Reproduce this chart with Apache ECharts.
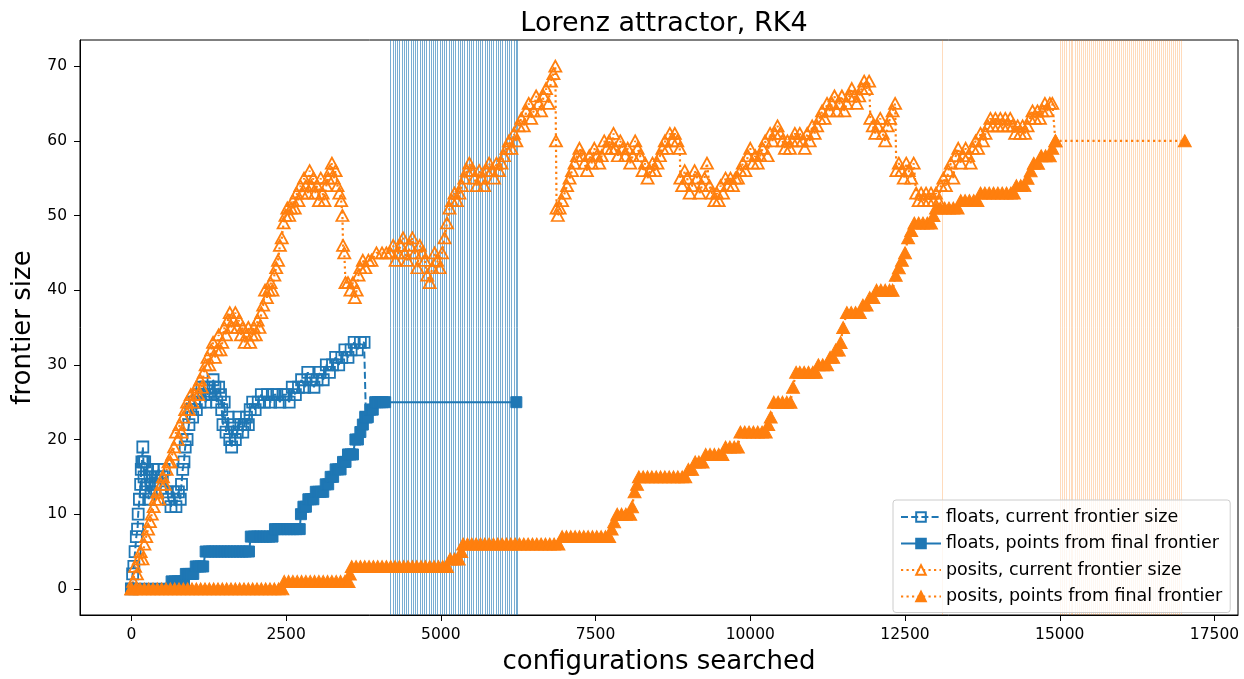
<!DOCTYPE html>
<html>
<head>
<meta charset="utf-8">
<title>Lorenz attractor, RK4</title>
<script src="https://cdn.jsdelivr.net/npm/echarts@6/dist/echarts.min.js"></script>
<style>
  html, body { margin: 0; padding: 0; background: #fff; }
  #chart { width: 1244px; height: 679px; }
</style>
</head>
<body>
<div id="chart"></div>
<script>
// tick labels
var xTicks = [0, 2500, 5000, 7500, 10000, 12500, 15000, 17500];
var yTicks = [0, 10, 20, 30, 40, 50, 60, 70];

// [configurations searched, frontier size]
var floatsCurrent = [[0,0],[20,2],[40,3],[60,5],[80,7],[100,8],[110,10],[130,12],[150,14],[160,16],[170,17],[185,19],[195,17],[205,15],[215,17],[230,13],[245,16],[260,14],[280,12],[300,15],[320,13],[350,16],[380,14],[410,15],[440,16],[470,14],[500,15],[530,16],[560,13],[600,12],[640,11],[680,13],[720,11],[760,13],[790,12],[810,14],[830,16],[850,17],[870,19],[900,20],[930,22],[960,24],[990,23],[1020,25],[1050,24],[1080,26],[1110,25],[1140,27],[1170,26],[1200,25],[1230,26],[1260,27],[1290,26],[1320,28],[1350,27],[1380,25],[1410,27],[1440,26],[1460,24],[1480,22],[1500,25],[1530,21],[1560,23],[1590,20],[1620,19],[1650,22],[1680,20],[1710,21],[1740,23],[1770,22],[1800,21],[1830,22],[1860,23],[1890,22],[1920,24],[1960,25],[2000,24],[2050,25],[2100,26],[2150,25],[2200,26],[2250,25],[2300,26],[2350,26],[2400,25],[2450,26],[2500,26],[2550,25],[2600,27],[2650,26],[2700,27],[2750,28],[2800,27],[2850,29],[2900,28],[2950,27],[3000,28],[3050,29],[3100,28],[3150,30],[3200,29],[3250,30],[3300,31],[3350,30],[3400,31],[3450,32],[3500,31],[3550,32],[3600,33],[3650,32],[3700,33],[3760,33],[3790,23]];

var floatsFinal = [[0,0],[80,0],[160,0],[240,0],[320,0],[400,0],[480,0],[560,0],[620,0],[650,1],[700,1],[750,1],[800,1],[850,1],[880,2],[920,2],[960,2],[1000,2],[1040,3],[1080,3],[1120,3],[1160,3],[1200,5],[1250,5],[1300,5],[1350,5],[1400,5],[1450,5],[1500,5],[1550,5],[1600,5],[1650,5],[1700,5],[1750,5],[1800,5],[1850,5],[1900,5],[1930,7],[1980,7],[2030,7],[2080,7],[2130,7],[2180,7],[2230,7],[2280,7],[2320,8],[2370,8],[2420,8],[2470,8],[2520,8],[2570,8],[2620,8],[2670,8],[2720,8],[2740,10],[2780,11],[2820,11],[2860,12],[2900,12],[2940,12],[2980,13],[3020,13],[3060,13],[3100,13],[3140,14],[3180,14],[3220,15],[3260,15],[3300,16],[3340,16],[3380,16],[3420,17],[3460,17],[3500,18],[3540,18],[3580,18],[3620,20],[3660,20],[3700,21],[3740,22],[3780,23],[3820,23],[3860,24],[3900,24],[3940,25],[3980,25],[4020,25],[4060,25],[4100,25],[6220,25]];

var positsCurrent = [[0,0],[30,1],[60,3],[90,2],[120,4],[150,5],[180,4],[210,6],[240,7],[270,8],[300,9],[330,10],[360,11],[390,12],[420,13],[450,12],[480,14],[510,15],[540,14],[570,16],[600,17],[630,17],[660,18],[690,19],[720,21],[750,20],[780,22],[810,21],[840,23],[870,24],[900,25],[930,24],[960,26],[990,25],[1020,26],[1050,27],[1080,26],[1110,28],[1140,27],[1170,29],[1200,30],[1230,31],[1260,30],[1290,32],[1320,33],[1350,31],[1380,32],[1410,34],[1440,32],[1470,33],[1500,35],[1530,34],[1560,36],[1590,37],[1620,35],[1650,36],[1680,37],[1710,35],[1740,36],[1770,34],[1800,35],[1830,33],[1860,34],[1890,35],[1920,33],[1950,34],[1980,35],[2010,34],[2040,36],[2070,35],[2100,37],[2130,38],[2160,40],[2190,39],[2220,40],[2250,41],[2280,40],[2310,42],[2340,43],[2370,44],[2400,46],[2430,47],[2460,49],[2490,50],[2520,51],[2550,50],[2580,51],[2610,52],[2640,51],[2670,53],[2700,52],[2730,54],[2760,53],[2790,55],[2820,54],[2850,53],[2880,56],[2910,54],[2940,55],[2970,53],[3000,54],[3030,52],[3060,55],[3090,53],[3120,52],[3150,54],[3180,55],[3210,56],[3240,57],[3270,55],[3300,56],[3330,54],[3360,53],[3390,52],[3410,50],[3420,46],[3440,45],[3460,41],[3500,41],[3540,40],[3580,41],[3610,39],[3640,40],[3670,42],[3700,43],[3740,44],[3780,43],[3830,44],[3880,44],[3960,45],[4050,45],[4120,45],[4180,45],[4230,46],[4270,44],[4310,45],[4350,46],[4390,47],[4420,45],[4460,44],[4500,46],[4540,47],[4580,45],[4620,43],[4660,46],[4700,45],[4740,44],[4780,42],[4820,41],[4860,43],[4900,45],[4940,44],[4980,43],[5020,45],[5060,47],[5100,49],[5140,51],[5180,52],[5220,53],[5260,52],[5300,53],[5340,54],[5380,55],[5420,56],[5460,57],[5500,56],[5540,55],[5580,54],[5620,56],[5660,55],[5700,54],[5740,56],[5780,57],[5820,56],[5860,55],[5900,57],[5940,56],[5980,57],[6020,58],[6060,59],[6100,60],[6140,59],[6180,61],[6220,60],[6260,62],[6300,63],[6340,62],[6380,64],[6420,65],[6460,63],[6500,64],[6540,66],[6580,65],[6620,64],[6660,66],[6700,67],[6740,65],[6780,68],[6820,69],[6850,70],[6860,60],[6870,51],[6890,50],[6920,51],[6960,52],[7000,53],[7040,54],[7080,55],[7120,56],[7160,57],[7200,58],[7240,59],[7280,58],[7320,57],[7360,56],[7400,58],[7440,57],[7480,59],[7520,58],[7560,57],[7600,58],[7640,60],[7680,59],[7720,60],[7760,59],[7790,61],[7820,59],[7860,58],[7900,60],[7940,59],[7980,58],[8020,59],[8060,57],[8100,58],[8140,60],[8180,59],[8220,58],[8260,56],[8300,57],[8340,55],[8380,56],[8420,57],[8460,56],[8500,57],[8540,58],[8580,59],[8620,60],[8660,59],[8700,61],[8740,60],[8780,61],[8820,60],[8860,59],[8870,55],[8900,54],[8940,56],[8980,55],[9020,53],[9060,54],[9100,56],[9140,55],[9180,53],[9220,54],[9260,55],[9300,57],[9340,54],[9380,53],[9420,52],[9460,53],[9490,52],[9520,54],[9560,53],[9600,55],[9640,54],[9680,55],[9720,54],[9760,55],[9800,55],[9840,56],[9880,57],[9920,56],[9960,58],[10000,59],[10040,57],[10080,58],[10120,57],[10160,58],[10200,59],[10240,60],[10280,58],[10320,61],[10360,60],[10400,61],[10440,62],[10480,61],[10520,60],[10560,59],[10600,60],[10640,59],[10680,60],[10720,61],[10760,60],[10800,61],[10840,60],[10880,59],[10920,61],[10960,60],[11000,62],[11040,61],[11080,62],[11120,63],[11160,64],[11200,63],[11240,65],[11280,64],[11320,65],[11360,66],[11400,64],[11440,65],[11480,66],[11520,64],[11560,65],[11600,66],[11640,67],[11680,66],[11720,65],[11760,66],[11800,67],[11840,68],[11880,67],[11920,68],[11940,63],[11980,62],[12020,61],[12060,62],[12100,63],[12140,61],[12180,60],[12220,62],[12260,63],[12300,64],[12340,65],[12360,56],[12400,57],[12440,56],[12480,55],[12520,57],[12560,56],[12600,55],[12640,57],[12680,53],[12720,52],[12760,53],[12800,52],[12840,53],[12880,52],[12920,53],[12960,52],[13000,53],[13040,52],[13080,54],[13120,55],[13160,54],[13200,56],[13240,57],[13280,55],[13320,58],[13360,59],[13400,57],[13440,58],[13480,59],[13520,58],[13560,57],[13600,59],[13640,60],[13680,59],[13720,61],[13760,60],[13800,61],[13840,62],[13880,63],[13920,62],[13960,63],[14000,62],[14040,63],[14080,62],[14120,63],[14160,62],[14200,63],[14240,62],[14280,61],[14320,62],[14360,61],[14400,62],[14440,61],[14480,62],[14520,63],[14560,64],[14600,63],[14640,64],[14680,63],[14720,64],[14760,65],[14800,64],[14840,65],[14880,65],[14930,60]];

var positsFinal = [[0,0],[70,0],[140,0],[210,0],[280,0],[350,0],[420,0],[490,0],[560,0],[630,0],[700,0],[770,0],[840,0],[910,0],[980,0],[1050,0],[1120,0],[1190,0],[1260,0],[1330,0],[1400,0],[1470,0],[1540,0],[1610,0],[1680,0],[1750,0],[1820,0],[1890,0],[1960,0],[2030,0],[2100,0],[2170,0],[2240,0],[2310,0],[2380,0],[2440,0],[2470,1],[2540,1],[2610,1],[2680,1],[2750,1],[2820,1],[2890,1],[2960,1],[3030,1],[3100,1],[3170,1],[3240,1],[3310,1],[3380,1],[3450,1],[3510,1],[3530,2],[3560,3],[3630,3],[3700,3],[3770,3],[3840,3],[3910,3],[3980,3],[4050,3],[4120,3],[4190,3],[4260,3],[4330,3],[4400,3],[4470,3],[4540,3],[4610,3],[4680,3],[4750,3],[4820,3],[4890,3],[4960,3],[5030,3],[5100,3],[5150,4],[5220,4],[5290,4],[5330,5],[5360,6],[5430,6],[5500,6],[5570,6],[5640,6],[5710,6],[5780,6],[5850,6],[5920,6],[5990,6],[6060,6],[6130,6],[6200,6],[6270,6],[6340,6],[6410,6],[6480,6],[6550,6],[6620,6],[6690,6],[6760,6],[6830,6],[6900,6],[6960,7],[7030,7],[7100,7],[7170,7],[7240,7],[7310,7],[7380,7],[7450,7],[7520,7],[7590,7],[7660,7],[7720,7],[7760,8],[7800,9],[7850,10],[7920,10],[7990,10],[8060,10],[8090,11],[8130,13],[8170,14],[8200,15],[8270,15],[8340,15],[8410,15],[8480,15],[8550,15],[8620,15],[8690,15],[8760,15],[8830,15],[8900,15],[8950,15],[9000,16],[9060,16],[9110,17],[9170,17],[9230,17],[9280,18],[9350,18],[9420,18],[9490,18],[9550,18],[9600,19],[9670,19],[9740,19],[9800,19],[9840,21],[9910,21],[9980,21],[10050,21],[10120,21],[10190,21],[10250,21],[10290,22],[10330,23],[10380,25],[10450,25],[10520,25],[10590,25],[10650,25],[10690,27],[10740,29],[10800,29],[10870,29],[10940,29],[11010,29],[11060,29],[11100,30],[11170,30],[11240,30],[11290,31],[11340,31],[11380,32],[11430,32],[11460,33],[11500,35],[11560,37],[11630,37],[11700,37],[11770,37],[11820,38],[11880,38],[11930,39],[11990,39],[12040,40],[12110,40],[12180,40],[12250,40],[12300,40],[12350,42],[12400,43],[12450,44],[12500,45],[12550,47],[12600,48],[12650,49],[12720,49],[12790,49],[12860,49],[12920,49],[12960,50],[13000,51],[13070,51],[13140,51],[13210,51],[13280,51],[13350,51],[13400,52],[13470,52],[13540,52],[13610,52],[13670,52],[13720,53],[13790,53],[13860,53],[13930,53],[14000,53],[14070,53],[14140,53],[14210,53],[14260,53],[14300,54],[14370,54],[14430,54],[14480,55],[14530,56],[14580,57],[14650,57],[14700,58],[14770,58],[14840,58],[14880,59],[14930,60],[17020,60]];

// configurations marked with vertical lines
var floatsMarks = [4190,4225,4262,4300,4334,4371,4405,4442,4480,4515,4553,4588,4622,4660,4697,4731,4768,4806,4840,4877,4915,4950,4986,5021,5058,5094,5130,5167,5203,5240,5275,5312,5348,5385,5420,5457,5492,5530,5565,5600,5638,5673,5710,5746,5782,5818,5855,5890,5926,5962,6000,6035,6070,6108,6144,6180,6215,6240];
var positsMarks = [13105,15015,15048,15080,15112,15146,15178,15210,15243,15276,15308,15340,15374,15406,15438,15471,15504,15536,15568,15602,15634,15666,15699,15732,15764,15796,15830,15862,15894,15927,15960,15992,16024,16058,16090,16122,16155,16188,16220,16252,16286,16318,16350,16383,16416,16448,16480,16514,16546,16578,16611,16644,16676,16708,16742,16774,16806,16839,16872,16904,16936,16970];

var blue = '#1f77b4';
var orange = '#ff7f0e';
var font = 'DejaVu Sans';

var chart = echarts.init(document.getElementById('chart'));

function marks(name, list, color) {
  return {
    name: name,
    type: 'line',
    data: [],
    silent: true,
    z: 1,
    markLine: {
      silent: true,
      z: 1,
      symbol: ['none', 'none'],
      label: { show: false },
      animation: false,
      lineStyle: { color: color, width: 1, type: 'solid' },
      emphasis: { disabled: true },
      data: list.map(function (v) { return { xAxis: v }; })
    }
  };
}

var option = {
  animation: false,
  title: {
    text: 'Lorenz attractor, RK4',
    left: 659,
    top: 5,
    textAlign: 'center',
    textStyle: { fontFamily: font, fontSize: 27, fontWeight: 'normal', color: '#000' }
  },
  grid: {
    left: 80, right: 6, top: 40, bottom: 64,
    outerBoundsMode: 'none',
    containLabel: false,
    show: true, borderColor: '#000', borderWidth: 1, backgroundColor: '#fff'
  },
  legend: {
    left: 893,
    top: 500,
    orient: 'vertical',
    itemWidth: 40,
    itemHeight: 12,
    itemGap: 8.5,
    padding: [8, 8, 7, 7],
    backgroundColor: 'rgba(255,255,255,0.8)',
    borderColor: '#cccccc',
    borderWidth: 1,
    borderRadius: 3,
    textStyle: { fontFamily: font, fontSize: 17.5, color: '#000' },
    data: [
      'floats, current frontier size',
      'floats, points from final frontier',
      'posits, current frontier size',
      'posits, points from final frontier'
    ]
  },
  xAxis: {
    type: 'value',
    min: -830,
    max: 17880,
    name: 'configurations searched',
    nameLocation: 'middle',
    nameGap: 34,
    nameTextStyle: { fontFamily: font, fontSize: 26, color: '#000' },
    axisLine: { onZero: false, lineStyle: { color: '#000', width: 1 } },
    axisTick: { customValues: xTicks, length: 6, lineStyle: { color: '#000' } },
    axisLabel: {
      customValues: xTicks, margin: 12,
      fontFamily: font, fontSize: 15.5, color: '#000',
      formatter: function (v) { return String(v); }
    },
    splitLine: { show: false }
  },
  yAxis: {
    type: 'value',
    min: -3.5,
    max: 73.5,
    name: 'frontier size',
    nameLocation: 'middle',
    nameGap: 40,
    nameRotate: 90,
    nameTextStyle: { fontFamily: font, fontSize: 26, color: '#000' },
    axisLine: { show: true, onZero: false, lineStyle: { color: '#000', width: 1 } },
    axisTick: { show: true, customValues: yTicks, length: 6, lineStyle: { color: '#000' } },
    axisLabel: {
      customValues: yTicks, margin: 13,
      fontFamily: font, fontSize: 15.5, color: '#000',
      formatter: function (v) { return String(v); }
    },
    splitLine: { show: false }
  },
  series: [
    marks('floats marks', floatsMarks, 'rgba(31,119,180,0.6)'),
    marks('posits marks', positsMarks, 'rgba(255,127,14,0.28)'),
    {
      name: 'floats, current frontier size',
      type: 'line',
      data: floatsCurrent,
      symbol: 'rect',
      symbolSize: 11,
      showAllSymbol: true,
      z: 2,
      lineStyle: { color: blue, width: 2, type: [7, 3.2] },
      itemStyle: { color: 'rgba(255,255,255,0)', borderColor: blue, borderWidth: 1.8 },
      emphasis: { disabled: true }
    },
    {
      name: 'floats, points from final frontier',
      type: 'line',
      data: floatsFinal,
      symbol: 'rect',
      symbolSize: 11,
      showAllSymbol: true,
      z: 2,
      lineStyle: { color: blue, width: 2, type: 'solid' },
      itemStyle: { color: blue, borderColor: blue, borderWidth: 1 },
      emphasis: { disabled: true }
    },
    {
      name: 'posits, current frontier size',
      type: 'line',
      data: positsCurrent,
      symbol: 'triangle',
      symbolSize: [12, 11],
      showAllSymbol: true,
      z: 2,
      lineStyle: { color: orange, width: 2.2, type: [2.2, 3.3] },
      itemStyle: { color: 'rgba(255,255,255,0)', borderColor: orange, borderWidth: 1.8 },
      emphasis: { disabled: true }
    },
    {
      name: 'posits, points from final frontier',
      type: 'line',
      data: positsFinal,
      symbol: 'triangle',
      symbolSize: [13, 12],
      showAllSymbol: true,
      z: 2,
      lineStyle: { color: orange, width: 2.2, type: [2.2, 3.3] },
      itemStyle: { color: orange, borderColor: orange, borderWidth: 1 },
      emphasis: { disabled: true }
    }
  ]
};

chart.setOption(option);
</script>
</body>
</html>
